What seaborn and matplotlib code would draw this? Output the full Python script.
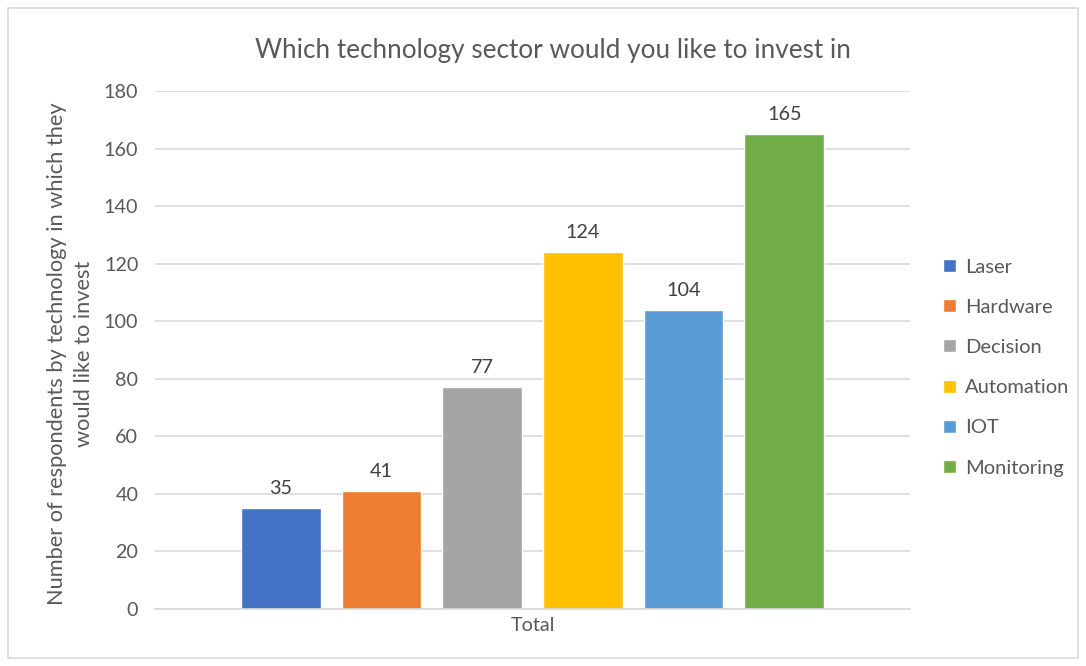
import matplotlib
matplotlib.use("Agg")
import matplotlib.pyplot as plt
import seaborn as sns
import pandas as pd
from matplotlib.patches import Rectangle

categories = ["Laser", "Hardware", "Decision", "Automation", "IOT", "Monitoring"]
values = [35, 41, 77, 124, 104, 165]
group = ["Total"] * len(categories)
colors = ["#4472C4", "#ED7D31", "#A5A5A5", "#FFC000", "#5B9BD5", "#70AD47"]
yticks = [0, 20, 40, 60, 80, 100, 120, 140, 160, 180]

df = pd.DataFrame({"group": group, "sector": categories, "value": values})

sns.set_theme(style="white")
plt.rcParams["font.family"] = ["Lato", "DejaVu Sans"]
txt = "#595959"

fig = plt.figure(figsize=(10.86, 6.66), dpi=100)
ax = fig.add_axes([155/1086, 1-609/666, (910-155)/1086, (609-91)/666])

sns.barplot(data=df, x="group", y="value", hue="sector", hue_order=categories,
            palette=colors, width=0.8, gap=0.21, ax=ax, saturation=1, legend=True)

ax.set_ylim(0, 180)
ax.set_xlim(-0.5, 0.5)
ax.set_yticks(yticks)
ax.yaxis.grid(True, color="#D9D9D9", linewidth=1.2)
ax.set_axisbelow(True)
for s in ["top", "right", "left"]:
    ax.spines[s].set_visible(False)
ax.spines["bottom"].set_color("#D9D9D9")
ax.spines["bottom"].set_linewidth(1.2)
ax.tick_params(axis="both", length=0, colors=txt, labelsize=14.2)
ax.tick_params(axis="y", pad=12)
ax.tick_params(axis="x", pad=6)
ax.set_xlabel("")
ax.set_ylabel("Number of respondents by technology in which they\nwould like to invest",
              color=txt, fontsize=15.7, linespacing=1.45)
ax.yaxis.set_label_coords(-0.081, 0.493)
ax.set_title("Which technology sector would you like to invest in", color=txt,
             fontsize=18.8, pad=24, x=0.527)

for cont in ax.containers:
    ax.bar_label(cont, padding=8, color="#404040", fontsize=14.2)

leg = ax.legend(loc="center left", bbox_to_anchor=(1.02, 0.466), frameon=False,
                fontsize=14.5, handlelength=0.62, handleheight=0.62,
                labelspacing=1.15, handletextpad=0.45)
for t in leg.get_texts():
    t.set_color(txt)

fig.patches.append(Rectangle((8/1086, 8/666), (1078-8)/1086, (658-8)/666,
                             transform=fig.transFigure, fill=False,
                             edgecolor="#D9D9D9", linewidth=1.2))

fig.savefig("out.png", dpi=100)
